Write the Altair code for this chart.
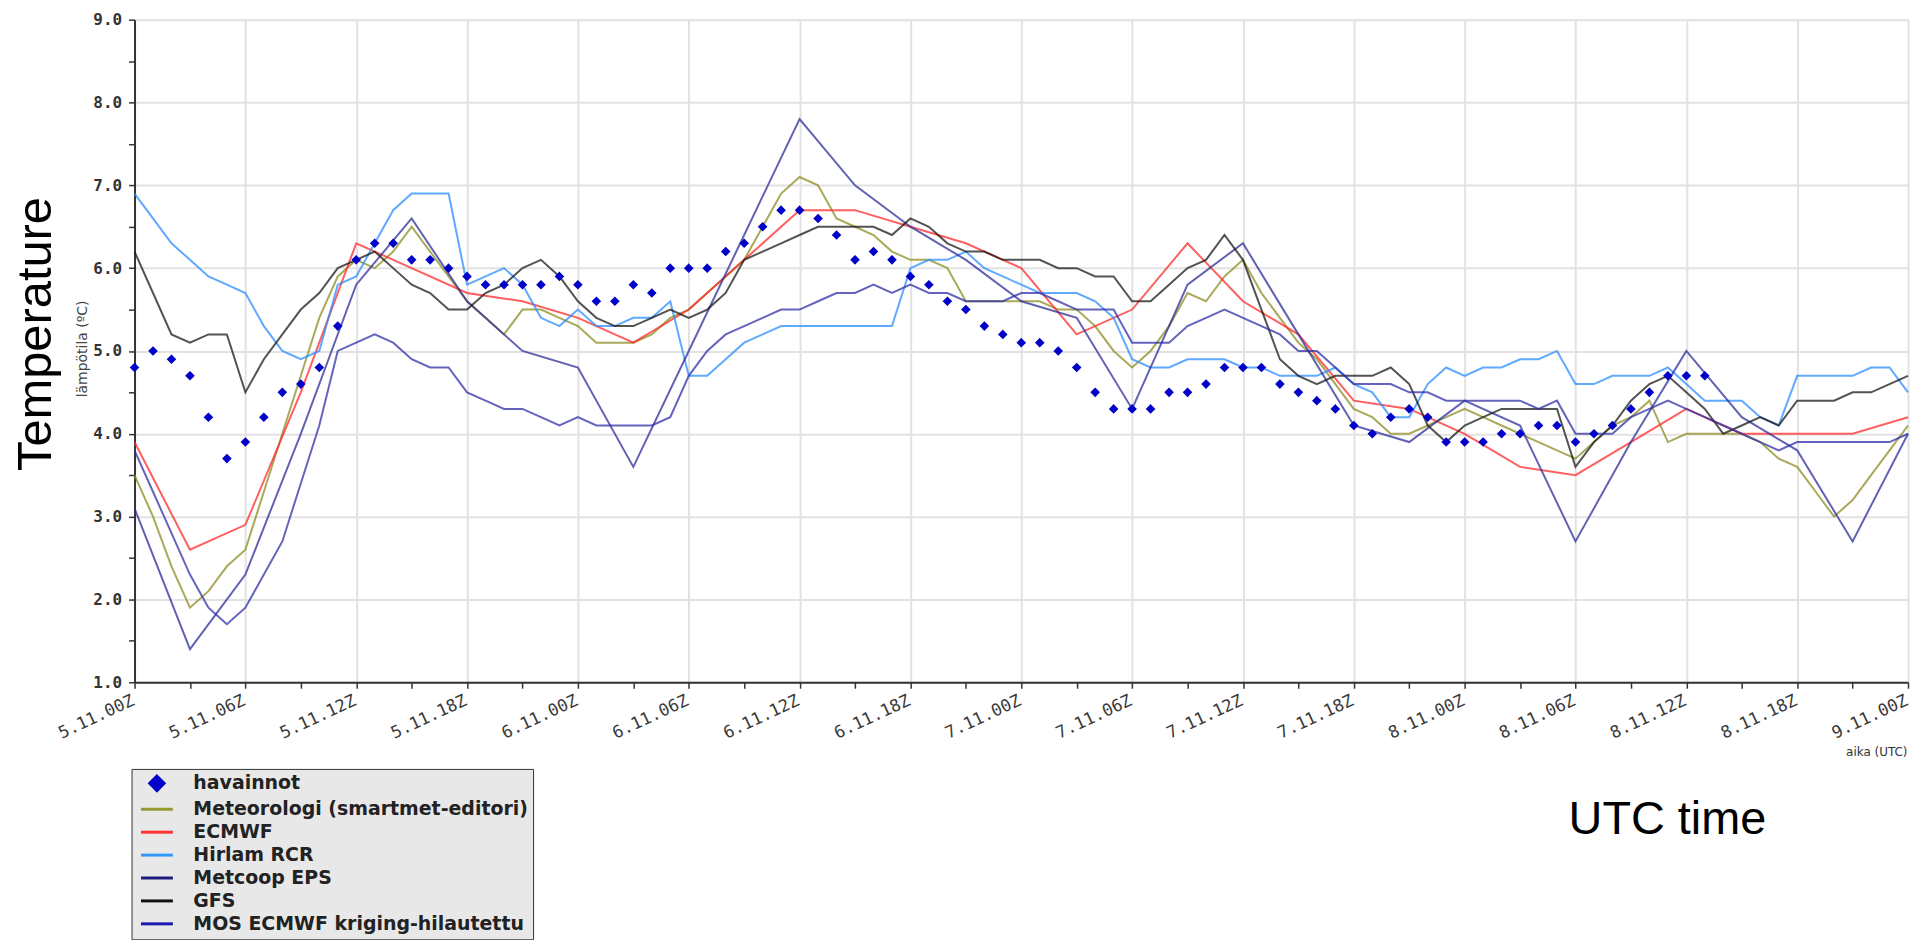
import json
import altair as alt
import pandas as pd

# ---------------- data ----------------
SERIES = ["havainnot", "Meteorologi (smartmet-editori)", "ECMWF", "Hirlam RCR",
          "Metcoop EPS", "GFS", "MOS ECMWF kriging-hilautettu"]
LINE_SERIES = SERIES[1:]

X_TICK_LABELS = ["5.11.00Z", "5.11.06Z", "5.11.12Z", "5.11.18Z",
                 "6.11.00Z", "6.11.06Z", "6.11.12Z", "6.11.18Z",
                 "7.11.00Z", "7.11.06Z", "7.11.12Z", "7.11.18Z",
                 "8.11.00Z", "8.11.06Z", "8.11.12Z", "8.11.18Z", "9.11.00Z"]

HOURS_OBS = list(range(0, 86))
HOURS_1H = list(range(0, 97))
HOURS_3H = list(range(0, 97, 3))

HAVAINNOT = [4.8, 5.0, 4.9, 4.7, 4.2, 3.7, 3.9, 4.2, 4.5, 4.6, 4.8, 5.3, 6.1, 6.3, 6.3, 6.1, 6.1, 6.0, 5.9, 5.8, 5.8, 5.8, 5.8, 5.9, 5.8,
             5.6, 5.6, 5.8, 5.7, 6.0, 6.0, 6.0, 6.2, 6.3, 6.5, 6.7, 6.7, 6.6, 6.4, 6.1, 6.2, 6.1, 5.9, 5.8, 5.6, 5.5, 5.3, 5.2, 5.1,
             5.1, 5.0, 4.8, 4.5, 4.3, 4.3, 4.3, 4.5, 4.5, 4.6, 4.8, 4.8, 4.8, 4.6, 4.5, 4.4, 4.3, 4.1, 4.0, 4.2, 4.3, 4.2, 3.9, 3.9,
             3.9, 4.0, 4.0, 4.1, 4.1, 3.9, 4.0, 4.1, 4.3, 4.5, 4.7, 4.7, 4.7]

METEOROLOGI = [3.5, 3.0, 2.4, 1.9, 2.1, 2.4, 2.6, 3.3, 4.0, 4.7, 5.4, 5.9, 6.1, 6.0, 6.2, 6.5, 6.2, 5.9, 5.6, 5.4, 5.2, 5.5, 5.5, 5.4, 5.3,
               5.1, 5.1, 5.1, 5.2, 5.4, 5.5, 5.7, 5.9, 6.1, 6.5, 6.9, 7.1, 7.0, 6.6, 6.5, 6.4, 6.2, 6.1, 6.1, 6.0, 5.6, 5.6, 5.6, 5.6,
               5.6, 5.5, 5.5, 5.3, 5.0, 4.8, 5.0, 5.3, 5.7, 5.6, 5.9, 6.1, 5.7, 5.4, 5.1, 4.9, 4.6, 4.3, 4.2, 4.0, 4.0, 4.1, 4.2, 4.3,
               4.2, 4.1, 4.0, 3.9, 3.8, 3.7, 3.9, 4.1, 4.2, 4.4, 3.9, 4.0, 4.0, 4.0, 4.0, 3.9, 3.7, 3.6, 3.3, 3.0, 3.2, 3.5, 3.8, 4.1]

ECMWF = [3.9, 2.6, 2.9, 4.5, 6.3, 6.0, 5.7, 5.6, 5.4, 5.1, 5.5, 6.1, 6.7, 6.7, 6.5, 6.3, 6.0,
         5.2, 5.5, 6.3, 5.6, 5.2, 4.4, 4.3, 4.0, 3.6, 3.5, 3.9, 4.3, 4.0, 4.0, 4.0, 4.2]

HIRLAM = [6.9, 6.6, 6.3, 6.1, 5.9, 5.8, 5.7, 5.3, 5.0, 4.9, 5.0, 5.8, 5.9, 6.3, 6.7, 6.9, 6.9, 6.9, 5.8, 5.9, 6.0, 5.8, 5.4, 5.3, 5.5,
          5.3, 5.3, 5.4, 5.4, 5.6, 4.7, 4.7, 4.9, 5.1, 5.2, 5.3, 5.3, 5.3, 5.3, 5.3, 5.3, 5.3, 6.0, 6.1, 6.1, 6.2, 6.0, 5.9, 5.8,
          5.7, 5.7, 5.7, 5.6, 5.4, 4.9, 4.8, 4.8, 4.9, 4.9, 4.9, 4.8, 4.8, 4.7, 4.7, 4.7, 4.8, 4.6, 4.5, 4.2, 4.2, 4.6, 4.8, 4.7,
          4.8, 4.8, 4.9, 4.9, 5.0, 4.6, 4.6, 4.7, 4.7, 4.7, 4.8, 4.6, 4.4, 4.4, 4.4, 4.2, 4.1, 4.7, 4.7, 4.7, 4.7, 4.8, 4.8, 4.5]

METCOOP_EPS = [3.1, 1.4, 2.3, 4.0, 5.8, 6.6, 5.6, 5.0, 4.8, 3.6, 5.0, 6.4, 7.8, 7.0, 6.5, 6.1, 5.6,
               5.4, 4.3, 5.8, 6.3, 5.2, 4.1, 3.9, 4.4, 4.1, 2.7, 3.9, 5.0, 4.2, 3.8, 2.7, 4.0]

GFS = [6.2, 5.7, 5.2, 5.1, 5.2, 5.2, 4.5, 4.9, 5.2, 5.5, 5.7, 6.0, 6.1, 6.2, 6.0, 5.8, 5.7, 5.5, 5.5, 5.7, 5.8, 6.0, 6.1, 5.9, 5.6,
       5.4, 5.3, 5.3, 5.4, 5.5, 5.4, 5.5, 5.7, 6.1, 6.2, 6.3, 6.4, 6.5, 6.5, 6.5, 6.5, 6.4, 6.6, 6.5, 6.3, 6.2, 6.2, 6.1, 6.1,
       6.1, 6.0, 6.0, 5.9, 5.9, 5.6, 5.6, 5.8, 6.0, 6.1, 6.4, 6.1, 5.5, 4.9, 4.7, 4.6, 4.7, 4.7, 4.7, 4.8, 4.6, 4.1, 3.9, 4.1,
       4.2, 4.3, 4.3, 4.3, 4.3, 3.6, 3.9, 4.1, 4.4, 4.6, 4.7, 4.5, 4.3, 4.0, 4.1, 4.2, 4.1, 4.4, 4.4, 4.4, 4.5, 4.5, 4.6, 4.7]

MOS_KRIGING = [3.8, 3.3, 2.8, 2.3, 1.9, 1.7, 1.9, 2.3, 2.7, 3.4, 4.1, 5.0, 5.1, 5.2, 5.1, 4.9, 4.8, 4.8, 4.5, 4.4, 4.3, 4.3, 4.2, 4.1, 4.2,
               4.1, 4.1, 4.1, 4.1, 4.2, 4.7, 5.0, 5.2, 5.3, 5.4, 5.5, 5.5, 5.6, 5.7, 5.7, 5.8, 5.7, 5.8, 5.7, 5.7, 5.6, 5.6, 5.6, 5.7,
               5.7, 5.6, 5.5, 5.5, 5.5, 5.1, 5.1, 5.1, 5.3, 5.4, 5.5, 5.4, 5.3, 5.2, 5.0, 5.0, 4.8, 4.6, 4.6, 4.6, 4.5, 4.5, 4.4, 4.4,
               4.4, 4.4, 4.4, 4.3, 4.4, 4.0, 4.0, 4.0, 4.2, 4.3, 4.4, 4.3, 4.2, 4.1, 4.0, 3.9, 3.8, 3.9, 3.9, 3.9, 3.9, 3.9, 3.9, 4.0]

# ---------------- styles ----------------
LEGEND_COLORS = ["#0000c8", "#999933", "#ff3333", "#3399ff", "#1c1c80", "#111111", "#1a1ab0"]
LINE_COLORS = ["#8c8c22", "#ff2a2a", "#2a8cff", "#2e2e9a", "#1a1a1a", "#3030a8"]
DIAMOND = "M0,-0.9L0.9,0L0,0.9L-0.9,0Z"
DASH = "M-2,0H2"
SHAPES = [DIAMOND] + [DASH] * 6

PLOT_W = 1780
PLOT_H = 665
PAD_LEFT = 127
PAD_TOP = 10
SVG_H = 932

# ---------------- tables ----------------
line_rows = []
for name, hours, vals in [
    ("Meteorologi (smartmet-editori)", HOURS_1H, METEOROLOGI),
    ("ECMWF", HOURS_3H, ECMWF),
    ("Hirlam RCR", HOURS_1H, HIRLAM),
    ("Metcoop EPS", HOURS_3H, METCOOP_EPS),
    ("GFS", HOURS_1H, GFS),
    ("MOS ECMWF kriging-hilautettu", HOURS_1H, MOS_KRIGING),
]:
    for h, v in zip(hours, vals):
        line_rows.append({"hour": h, "temp": v, "series": name})
lines_df = pd.DataFrame(line_rows)
obs_df = pd.DataFrame({"hour": HOURS_OBS, "temp": HAVAINNOT, "series": "havainnot"})

# ---------------- axes ----------------
x_scale = alt.Scale(domain=[0, 96], nice=False, zero=False)
y_scale = alt.Scale(domain=[1, 9], nice=False, zero=False)

x_axis = alt.Axis(
    values=HOURS_3H,
    labelExpr=f"datum.value % 6 === 0 ? {json.dumps(X_TICK_LABELS)}[datum.value / 6] : ''",
    labelAngle=335, labelAlign="right", labelBaseline="top", labelPadding=4, labelOffset=-5,
    labelFont="DejaVu Sans Mono", labelFontSize=17, labelColor="#3a3a3a",
    labelOverlap=False, labelFlush=False, labelBound=False,
    grid=True, gridColor="#e2e2e2", gridWidth=2,
    gridOpacity={"condition": {"test": "datum.value % 6 === 0", "value": 1}, "value": 0},
    domainColor="#333333", domainWidth=2, tickColor="#333333", tickWidth=1.5, tickSize=6,
    title="aika (UTC)", titleFont="DejaVu Sans", titleFontSize=12, titleFontWeight="normal",
    titleColor="#333333", titleX=PLOT_W - 1, titleY=70, titleAlign="right", titleBaseline="middle",
)

x_axis_big = alt.Axis(
    orient="bottom", labels=False, ticks=False, domain=False, grid=False,
    title="UTC time", titleFont="Liberation Sans", titleFontSize=47, titleFontWeight="normal",
    titleColor="#000000", titleX=1538, titleY=138, titleAlign="center", titleBaseline="middle",
)

y_axis = alt.Axis(
    values=[1 + 0.5 * i for i in range(17)],
    labelExpr="datum.value % 1 === 0 ? format(datum.value, '.1f') : ''",
    labelFont="DejaVu Sans Mono", labelFontWeight="bold", labelFontSize=16, labelColor="#333333",
    labelPadding=7, labelOverlap=False, labelFlush=False,
    grid=True, gridColor="#e2e2e2", gridWidth=2,
    gridOpacity={"condition": {"test": "datum.value % 1 === 0", "value": 1}, "value": 0},
    domainColor="#333333", domainWidth=2, tickColor="#333333", tickWidth=1.5, tickSize=6,
    title="lämpötila (ºC)", titleFont="DejaVu Sans", titleFontSize=14, titleFontWeight="normal",
    titleColor="#444444", titleX=-52, titleY=330, titleAngle=270, titleAlign="center",
    titleBaseline="middle",
)

y_axis_big = alt.Axis(
    orient="left", labels=False, ticks=False, domain=False, grid=False,
    title="Temperature", titleFont="Liberation Sans", titleFontSize=49, titleFontWeight="normal",
    titleColor="#000000", titleX=-99, titleY=315, titleAngle=270, titleAlign="center",
    titleBaseline="middle",
)

legend = alt.Legend(
    title=None, orient="none", legendX=-3, legendY=752,
    fillColor="#e8e8e8", strokeColor="#333333", padding=5,
    symbolSize=256, symbolStrokeWidth=3, symbolOffset=11,
    labelFont="DejaVu Sans", labelFontWeight="bold", labelFontSize=19, labelColor="#222222",
    labelOffset=27, rowPadding=3, labelLimit=600,
)

lines = alt.Chart(lines_df).mark_line(strokeWidth=2, opacity=0.75).encode(
    x=alt.X("hour:Q", scale=x_scale, axis=x_axis),
    y=alt.Y("temp:Q", scale=y_scale, axis=y_axis),
    color=alt.Color("series:N", scale=alt.Scale(domain=LINE_SERIES, range=LINE_COLORS), legend=None),
)

points = alt.Chart(obs_df).mark_point(filled=True, size=36, strokeWidth=3, opacity=1).encode(
    x=alt.X("hour:Q", scale=x_scale, axis=x_axis_big),
    y=alt.Y("temp:Q", scale=y_scale, axis=y_axis_big),
    fill=alt.Fill("series:N", scale=alt.Scale(domain=SERIES, range=LEGEND_COLORS), legend=legend),
    stroke=alt.Stroke("series:N", scale=alt.Scale(domain=SERIES, range=LEGEND_COLORS), legend=legend),
    shape=alt.Shape("series:N", scale=alt.Scale(domain=SERIES, range=SHAPES), legend=legend),
)

chart = (
    alt.layer(lines, points)
    .resolve_axis(x="independent", y="independent")
    .properties(
        width=PLOT_W, height=PLOT_H,
        autosize=alt.AutoSizeParams(type="none"),
        padding={"left": PAD_LEFT, "top": PAD_TOP, "right": 4, "bottom": SVG_H - PAD_TOP - PLOT_H},
    )
    .configure_view(strokeWidth=0)
    .configure(background="white")
)

chart.save("out.html", embed_options={"renderer": "svg", "actions": False})
